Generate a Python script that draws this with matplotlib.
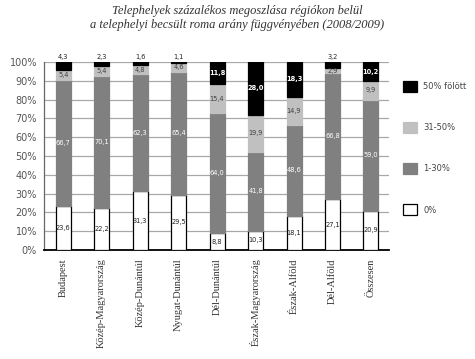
import matplotlib
matplotlib.use("Agg")
import matplotlib.pyplot as plt
from matplotlib.patches import Patch

categories = ["Budapest", "Közép-Magyarország", "Közép-Dunántúl", "Nyugat-Dunántúl",
              "Dél-Dunántúl", "Észak-Magyarország", "Észak-Alföld", "Dél-Alföld", "Összesen"]
zero = [23.6, 22.2, 31.3, 29.5, 8.8, 10.3, 18.1, 27.1, 20.9]
low = [66.7, 70.1, 62.3, 65.4, 64.0, 41.8, 48.6, 66.8, 59.0]
mid = [5.4, 5.4, 4.8, 4.6, 15.4, 19.9, 14.9, 2.9, 9.9]
high = [4.3, 2.3, 1.6, 1.1, 11.8, 28.0, 18.3, 3.2, 10.2]
series_names = ["0%", "1-30%", "31-50%", "50% fölött"]
yticks = [0, 10, 20, 30, 40, 50, 60, 70, 80, 90, 100]
title = "Telephelyek százalékos megoszlása régiókon belül\na telephelyi becsült roma arány függvényében (2008/2009)"

W, H = 475, 359
fig = plt.figure(figsize=(W / 100, H / 100), dpi=100)
fig.patch.set_facecolor("white")
ax = fig.add_axes([44 / W, 1 - 250 / H, (389 - 44) / W, (250 - 62) / H])

x = list(range(len(categories)))
colors = ["white", "#808080", "#c0c0c0", "black"]
textcolors = ["#222222", "white", "#404040", "white"]
series = [zero, low, mid, high]
width = 0.39
bottoms = [0.0] * len(x)
for si, (vals, col, tc) in enumerate(zip(series, colors, textcolors)):
    ax.bar(x, vals, width, bottom=bottoms, color=col,
           edgecolor="black" if si == 0 else col, linewidth=0.9, zorder=3)
    for i, v in enumerate(vals):
        lbl = f"{v:.1f}".replace(".", ",")
        if si == 3 and v < 5:
            ax.text(x[i], 100.8, lbl, ha="center", va="bottom", fontsize=4.8,
                    color="#222222", zorder=5)
        else:
            ax.text(x[i], bottoms[i] + v / 2, lbl, ha="center", va="center",
                    fontsize=4.8, color=tc, zorder=5,
                    fontweight="bold" if si == 3 else "normal")
    bottoms = [b + v for b, v in zip(bottoms, vals)]

ax.set_xlim(-0.5, 8.47)
ax.set_ylim(0, 100)
ax.set_yticks(yticks)
ax.set_yticklabels([f"{t}%" for t in yticks], fontsize=7, color="#555555")
ax.yaxis.grid(True, color="#a8a8a8", linewidth=0.9, zorder=0)
ax.set_axisbelow(True)
ax.tick_params(axis="y", length=0, pad=5)
ax.set_xticks(x)
ax.set_xticklabels(categories, rotation=90, fontsize=7.5,
                   family="Liberation Serif", color="#333333")
ax.tick_params(axis="x", length=0, pad=6)
for s in ["top", "right"]:
    ax.spines[s].set_visible(False)
ax.spines["left"].set_color("#666666")
ax.spines["left"].set_linewidth(0.9)
ax.spines["bottom"].set_color("black")
ax.spines["bottom"].set_linewidth(1.3)

handles = [Patch(facecolor=colors[i], edgecolor="black" if i == 0 else colors[i], linewidth=0.9)
           for i in [3, 2, 1, 0]]
labels = [series_names[i] for i in [3, 2, 1, 0]]
leg = fig.legend(handles, labels, loc="center left", bbox_to_anchor=(403 / W, 1 - 148 / H),
                 frameon=False, fontsize=6, handlelength=1.7, handleheight=1.7,
                 labelspacing=3.6, handletextpad=0.7, borderaxespad=0, borderpad=0)
for t in leg.get_texts():
    t.set_color("#444444")

fig.text(237 / W, 1 - 18 / H, title, ha="center", va="center", fontsize=9,
         family="Liberation Serif", style="italic", color="#333333", linespacing=1.3)

fig.savefig("out.png", dpi=100)
